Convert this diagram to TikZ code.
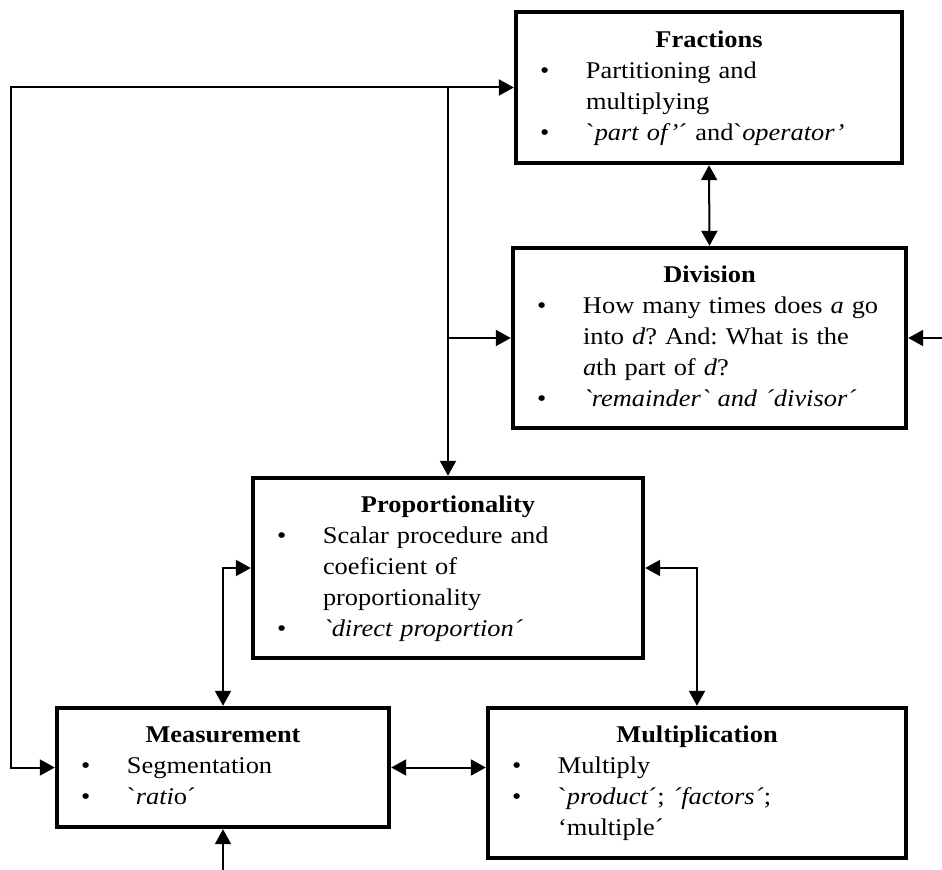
\documentclass[tikz,border=0pt]{standalone}
\usepackage{fontspec}
\setmainfont{Liberation Serif}[Ligatures=TeXOff, FakeStretch=1.1]
\usetikzlibrary{arrows.meta}
\frenchspacing
\newcommand\boxtitle[1]{{\parindent=0pt\centering\strut\textbf{#1}\par}}
\newcommand\boxitem[1]{{\parindent=0pt\leftskip=35pt\rightskip=0pt plus 1fil\noindent\llap{\makebox[23pt][l]{\textbullet}}#1\strut\par}}
\tikzset{
  box/.style={draw, line width=2.2pt, inner sep=0pt, font=\fontsize{12}{15.5}\selectfont\frenchspacing},
  conn/.style={line width=1pt},
  arr/.style={-{Triangle[length=7.5pt,width=8pt]}},
  darr/.style={{Triangle[length=7.5pt,width=8pt]}-{Triangle[length=7.5pt,width=8pt]}}
}
\begin{document}
\begin{tikzpicture}[x=0.5pt,y=-0.5pt]
\useasboundingbox (0,0) rectangle (942,870);

\node[box, minimum width=193pt, minimum height=75.5pt, text width=193pt] (frac) at (709,87.5) {%
  \boxtitle{Fractions}%
  \boxitem{Partitioning and\\multiplying}%
  \boxitem{`\textit{part of’}´ and`\textit{operator’}}};

\node[box, minimum width=196.5pt, minimum height=90pt, text width=196.5pt] (div) at (709.5,338) {%
  \boxtitle{Division}%
  \boxitem{How many times does \textit{a} go\\into \textit{d}? And: What is the\\\textit{a}th part of \textit{d}?}%
  \boxitem{\textit{`remainder` and ´divisor´}}};

\node[box, minimum width=195pt, minimum height=90pt, text width=195pt] (prop) at (448,568) {%
  \boxtitle{Proportionality}%
  \boxitem{Scalar procedure and\\coeficient of\\proportionality}%
  \boxitem{\textit{`direct proportion´}}};

\node[box, minimum width=166pt, minimum height=59.5pt, text width=166pt] (meas) at (223,767.5) {%
  \boxtitle{Measurement}%
  \boxitem{Segmentation}%
  \boxitem{`\textit{rati}o´}};

\node[box, minimum width=209pt, minimum height=75pt, text width=209pt] (mult) at (697,783) {%
  \boxtitle{Multiplication}%
  \boxitem{Multiply}%
  \boxitem{`\textit{product}´; \textit{´factors´};\\‘multiple´}};

\coordinate (bl) at (11,767.5);
\coordinate (rin) at (942,338);
\coordinate (bin) at (223,870);

\draw[conn,darr] (frac.west) -| (bl) -- (meas.west);
\draw[conn,arr] (prop.north |- frac.west) -- (prop.north);
\draw[conn,arr] (prop.north |- div.west) -- (div.west);
\draw[conn,darr] (frac.south) -- (div.north);
\draw[conn,arr] (rin) -- (div.east);
\draw[conn,darr] (prop.west) -| (meas.north);
\draw[conn,darr] (prop.east) -| (mult.north);
\draw[conn,darr] (meas.east) -- (meas.east -| mult.west);
\draw[conn,arr] (bin) -- (meas.south);
\end{tikzpicture}
\end{document}
